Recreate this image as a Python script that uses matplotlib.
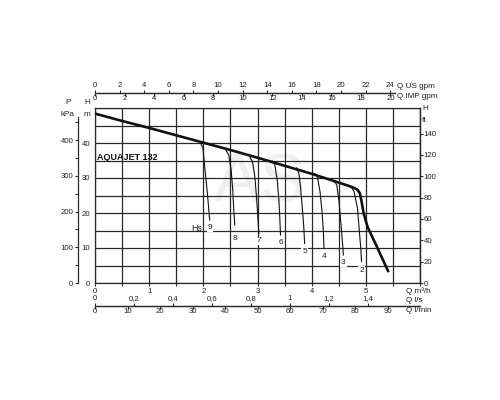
import matplotlib
matplotlib.use('Agg')
import matplotlib.pyplot as plt
from matplotlib import font_manager
import numpy as np

plt.rcParams['font.family'] = ['Liberation Sans', 'DejaVu Sans']

# ---------------- data ----------------
q_main = [0.0, 0.5, 1.0, 1.5, 2.0, 2.5, 3.0, 3.5, 4.0, 4.5, 4.75, 4.85, 4.89, 4.92, 4.96, 5.03, 5.2, 5.42]
h_main = [48.4, 46.3, 44.3, 42.2, 40.1, 38.0, 35.8, 33.5, 31.2, 28.7, 27.4, 26.6, 25.6, 23.4, 19.9, 16.1, 10.5, 3.1]

hs_labels = ['9', '8', '7', '6', '5', '4', '3', '2']
hs_q = [
    [1.944, 1.994, 2.019, 2.050, 2.080, 2.117],
    [2.407, 2.469, 2.513, 2.543, 2.562, 2.580],
    [2.858, 2.907, 2.951, 2.981, 3.006, 3.025],
    [3.272, 3.320, 3.364, 3.395, 3.413, 3.425],
    [3.722, 3.765, 3.796, 3.828, 3.852, 3.870],
    [4.056, 4.105, 4.154, 4.191, 4.216, 4.228],
    [4.414, 4.463, 4.506, 4.537, 4.568, 4.586],
    [4.722, 4.784, 4.846, 4.876, 4.907, 4.920],
]
hs_h = [
    [40.2, 38.5, 34.2, 29.4, 24.7, 18.0],
    [38.2, 36.6, 32.3, 26.6, 20.9, 16.6],
    [36.0, 34.7, 30.4, 24.7, 18.9, 14.2],
    [34.9, 33.7, 29.4, 23.7, 18.0, 13.7],
    [32.9, 31.3, 27.1, 21.3, 16.6, 11.3],
    [31.3, 30.4, 26.1, 20.4, 14.7, 9.9],
    [29.3, 28.0, 23.2, 17.5, 11.8, 8.0],
    [27.6, 26.1, 21.3, 15.6, 9.9, 6.1],
]

q_m3h_ticks = [0, 1, 2, 3, 4, 5]
h_m_ticks = [0, 10, 20, 30, 40]
p_kpa_ticks = [0, 100, 200, 300, 400]
h_ft_ticks = [0, 20, 40, 60, 80, 100, 120, 140]
q_usgpm_ticks = [0, 2, 4, 6, 8, 10, 12, 14, 16, 18, 20, 22, 24]
q_impgpm_ticks = [0, 2, 4, 6, 8, 10, 12, 14, 16, 18, 20]
q_ls_ticks = [0, 0.2, 0.4, 0.6, 0.8, 1.0, 1.2, 1.4]
q_ls_labels = ['0', '0,2', '0,4', '0,6', '0,8', '1', '1,2', '1,4']
q_lmin_ticks = [0, 10, 20, 30, 40, 50, 60, 70, 80, 90]

title = 'AQUAJET 132'

# unit conversions
US_GPM = 4.40287
IMP_GPM = 3.66615
LS = 1 / 3.6
LMIN = 1000 / 60
KPA = 9.80665
FT = 1 / 0.3048

# ---------------- layout ----------------
W, H = 500, 400
fig = plt.figure(figsize=(5, 4), dpi=100)
fig.patch.set_facecolor('white')

def fx(px):
    return px / W

def fy(py):
    return 1 - py / H

X0, X1, Y0, Y1 = 95, 420, 108, 283
QMAX, HMAX = 6.0, 50.0
dark = '#2a2a2a'
txt = '#222222'
fs = 5.6

ax = fig.add_axes([fx(X0), fy(Y1), (X1 - X0) / W, (Y1 - Y0) / H])
ax.set_xlim(0, QMAX)
ax.set_ylim(0, HMAX)
ax.set_xticks(np.arange(0, QMAX + 0.01, 0.5))
ax.set_xticklabels([str(int(v)) if (v in q_m3h_ticks) else '' for v in np.arange(0, QMAX + 0.01, 0.5)])
ax.set_yticks(np.arange(0, HMAX + 0.01, 5))
ax.set_yticklabels([str(int(v)) if int(v) in h_m_ticks else '' for v in np.arange(0, HMAX + 0.01, 5)])
ax.grid(True, color=dark, lw=0.9)
ax.set_axisbelow(True)
ax.tick_params(axis='x', direction='out', length=2.2, width=0.8, color=dark, pad=1.2,
               labelsize=fs, labelcolor=txt)
ax.tick_params(axis='y', length=0, pad=3.5, labelsize=fs, labelcolor=txt)
for s in ax.spines.values():
    s.set_color(dark)
    s.set_linewidth(0.9)

# watermark
ax.text(2.2, 28.5, 'AS', fontsize=50, color='#efefef', ha='left', va='center', zorder=0.5)

# main curve
ax.plot(q_main, h_main, color='#111111', lw=1.9, solid_capstyle='butt', zorder=4)

# suction lift branches
label_off = [-3.0, -7.0, -3.0, -2.5, -3.5, -3.5, -3.0, -3.5]
for lab, qs, hs, off in zip(hs_labels, hs_q, hs_h, label_off):
    ax.plot(qs, hs, color='#111111', lw=0.8, zorder=3)
    ax.annotate(lab, (qs[-1], hs[-1]), xytext=(0, off), textcoords='offset points',
                ha='center', va='top', fontsize=fs + 0.4, color=txt, zorder=5,
                bbox=dict(boxstyle='square,pad=0.1', fc='white', ec='none'))
ax.annotate('Hs', (hs_q[0][-1], hs_h[0][-1]), xytext=(-9, -3.0), textcoords='offset points',
            ha='center', va='top', fontsize=fs + 0.8, color=txt, zorder=5)

# condensed bold title if a narrow family exists, else a slightly smaller regular one
avail = {f.name for f in font_manager.fontManager.ttflist}
narrow = [n for n in ['Liberation Sans Narrow', 'DejaVu Sans Condensed', 'Arial Narrow'] if n in avail]
if narrow:
    ax.text(0.04, 35.0, title, fontsize=7.3, fontweight='bold', color='#111111',
            family=[narrow[0], 'Liberation Sans'], ha='left', va='baseline', zorder=5)
else:
    ax.text(0.04, 35.0, title, fontsize=6.5, fontweight='bold', color='#111111',
            ha='left', va='baseline', zorder=5)

# P kPa axis (left, outward)
axp = ax.twinx()
axp.set_ylim(0, HMAX * KPA)
axp.yaxis.set_ticks_position('left')
axp.yaxis.set_label_position('left')
axp.spines['left'].set_position(('outward', 12.2))
axp.spines['left'].set_bounds(0, 465)
axp.spines['left'].set_color(dark)
axp.spines['left'].set_linewidth(0.9)
for k in ['right', 'top', 'bottom']:
    axp.spines[k].set_visible(False)
axp.set_yticks(p_kpa_ticks)
axp.set_yticks([50, 150, 250, 350, 450], minor=True)
axp.tick_params(axis='y', which='both', direction='out', length=2.3, width=0.8, color=dark,
                pad=1.0, labelsize=fs, labelcolor=txt)
axp.tick_params(axis='y', which='minor', labelleft=False)
axp.grid(False)

# H ft axis (right)
axf = ax.twinx()
axf.set_ylim(0, HMAX * FT)
axf.set_yticks(h_ft_ticks)
for k in ['left', 'top', 'bottom']:
    axf.spines[k].set_visible(False)
axf.spines['right'].set_color(dark)
axf.spines['right'].set_linewidth(0.9)
axf.tick_params(axis='y', direction='out', length=2.0, width=0.8, color=dark, pad=0.5,
                labelsize=fs, labelcolor=txt)
axf.grid(False)

def flat_axis(py, xpx0, xpx1, xmax, side):
    a = fig.add_axes([fx(xpx0), fy(py), (xpx1 - xpx0) / W, 0.0001])
    a.set_xlim(0, xmax)
    a.set_yticks([])
    a.patch.set_visible(False)
    for k in ['left', 'right', 'top', 'bottom']:
        a.spines[k].set_visible(False)
    a.spines[side].set_visible(True)
    a.spines[side].set_color(dark)
    a.spines[side].set_linewidth(0.9)
    if side == 'top':
        a.xaxis.tick_top()
        a.xaxis.set_label_position('top')
    return a

# top axes: US gpm (above) and IMP gpm (below)
top_end_px = 395
q_top_max = (top_end_px - X0) / ((X1 - X0) / QMAX)
a_us = flat_axis(93, X0, top_end_px, q_top_max * US_GPM, 'top')
a_us.set_xticks(q_usgpm_ticks)
a_us.tick_params(axis='x', direction='out', length=2.3, width=0.8, color=dark, pad=0.6,
                 labelsize=fs, labelcolor=txt)
a_imp = flat_axis(93, X0, top_end_px, q_top_max * IMP_GPM, 'bottom')
a_imp.set_xticks(q_impgpm_ticks)
a_imp.tick_params(axis='x', direction='out', length=2.3, width=0.8, color=dark, pad=-0.8,
                  labelsize=fs, labelcolor=txt)

# bottom axes: l/s (above) and l/min (below)
a_ls = flat_axis(306, X0, X1, QMAX * LS, 'top')
a_ls.set_xticks(q_ls_ticks)
a_ls.set_xticklabels(q_ls_labels)
a_ls.tick_params(axis='x', direction='out', length=2.3, width=0.8, color=dark, pad=0.2,
                 labelsize=fs, labelcolor=txt)
a_lm = flat_axis(306, X0, X1, QMAX * LMIN, 'bottom')
a_lm.set_xticks(q_lmin_ticks)
a_lm.tick_params(axis='x', direction='out', length=2.3, width=0.8, color=dark, pad=-0.8,
                 labelsize=fs, labelcolor=txt)

# unit texts
ufs = 5.9
fig.text(fx(397), fy(86), 'Q US gpm', fontsize=ufs, color=txt, ha='left', va='center')
fig.text(fx(397), fy(97), 'Q IMP gpm', fontsize=ufs, color=txt, ha='left', va='center')
fig.text(fx(406), fy(291), 'Q m³/h', fontsize=ufs, color=txt, ha='left', va='center')
fig.text(fx(406), fy(300), 'Q l/s', fontsize=ufs, color=txt, ha='left', va='center')
fig.text(fx(406), fy(311), 'Q l/min', fontsize=ufs, color=txt, ha='left', va='center')
fig.text(fx(68), fy(102), 'P', fontsize=ufs, color=txt, ha='center', va='center')
fig.text(fx(67.5), fy(115), 'kPa', fontsize=ufs, color=txt, ha='center', va='center')
fig.text(fx(87), fy(102), 'H', fontsize=ufs, color=txt, ha='center', va='center')
fig.text(fx(87), fy(115), 'm', fontsize=ufs, color=txt, ha='center', va='center')
fig.text(fx(422), fy(108), 'H', fontsize=ufs, color=txt, ha='left', va='center')
fig.text(fx(422), fy(120), 'ft', fontsize=ufs, color=txt, ha='left', va='center')

fig.savefig('out.png', dpi=100, facecolor='white')
